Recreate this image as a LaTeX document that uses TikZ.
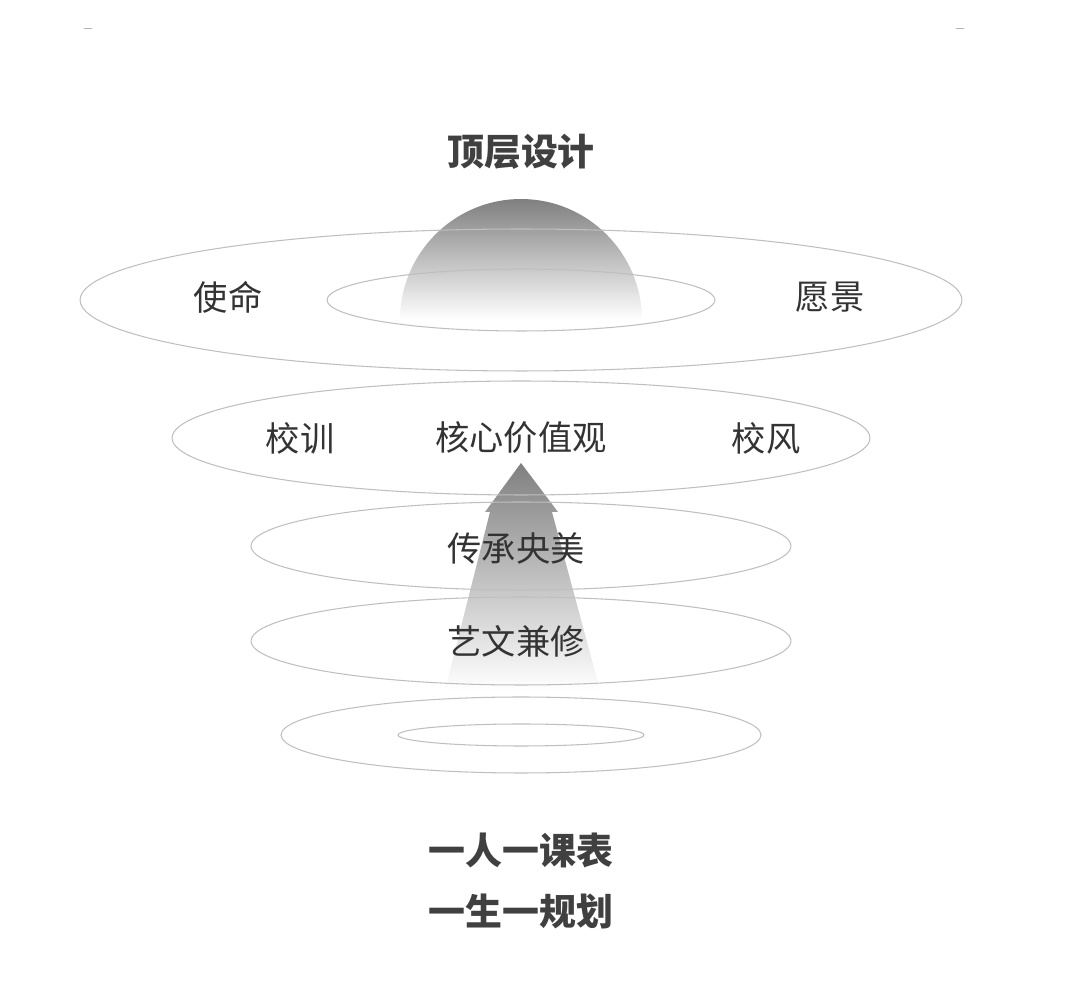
\documentclass[tikz,border=0pt]{standalone}
\usepackage{fontspec}
\setmainfont{Noto Sans CJK SC}
\usetikzlibrary{positioning}
\tikzset{
    ring/.style={draw=black!25, line width=0.6pt}, % thin grey rings
    word/.style={text=black!80, font=\fontsize{19.5}{23}\selectfont},
    head/.style={text=black!75, font=\fontsize{21}{25}\selectfont\bfseries},
}
\begin{document}
\begin{tikzpicture}[x=0.02cm, y=0.02cm]
    \useasboundingbox (0,0) rectangle (1080,988);
    % Kuppel und Pfeil
    \shade[top color=black!50, bottom color=white]
        (400,668) arc[start angle=180, end angle=0, radius=2.42cm] -- cycle;
    \shade[top color=black!50, bottom color=white]
        (445,298) -- (490,476) -- (485,476) -- (521,525) -- (558,476) -- (552,476) -- (600,298) -- cycle;
    % Ringe
    \draw[ring] (521,688) ellipse [x radius=8.82cm, y radius=1.42cm];
    \draw[ring] (521,688) ellipse [x radius=3.88cm, y radius=0.62cm];
    \draw[ring] (521,550) ellipse [x radius=6.98cm, y radius=1.14cm];
    \draw[ring] (521,442) ellipse [x radius=5.4cm, y radius=0.88cm];
    \draw[ring] (521,347) ellipse [x radius=5.4cm, y radius=0.88cm];
    \draw[ring] (521,253) ellipse [x radius=4.8cm, y radius=0.76cm];
    \draw[ring] (521,253) ellipse [x radius=2.46cm, y radius=0.22cm];
    \draw[black!30] (84,960) -- (92,960) (956,960) -- (964,960);
    % Texte
    \node[head] (top) at (521,836) {顶层设计};
    \node[word] (mission) at (228,691) {使命};
    \node[word] (vision) at (830,691) {愿景};
    \node[word] (motto) at (300,550) {校训};
    \node[word] (core) at (521,550) {核心价值观};
    \node[word] (style) at (766,550) {校风};
    \node[word] (heritage) at (516,440) {传承央美};
    \node[word] (arts) at (516,347) {艺文兼修};
    \node[head] (table) at (521,138) {一人一课表};
    \node[head] (plan) at (521,76) {一生一规划};
\end{tikzpicture}
\end{document}
